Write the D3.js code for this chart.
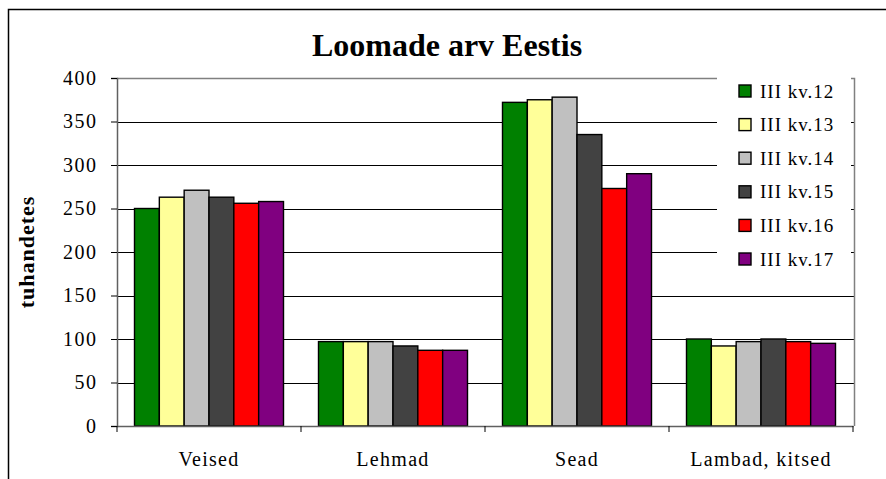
<!DOCTYPE html>
<html>
<head>
<meta charset="utf-8">
<script src="https://cdn.jsdelivr.net/npm/d3@7"></script>
<style>
  body { margin: 0; background: #fff; }
  svg { display: block; font-family: "Liberation Serif", "Times New Roman", serif; }
</style>
</head>
<body>
<svg width="886" height="479"></svg>
<script>
const categories = ["Veised", "Lehmad", "Sead", "Lambad, kitsed"];
const seriesNames = ["III kv.12", "III kv.13", "III kv.14", "III kv.15", "III kv.16", "III kv.17"];
const kv12 = [250, 97, 372, 100];
const kv13 = [263, 97, 375, 92];
const kv14 = [271, 97, 378, 97];
const kv15 = [263, 92, 335, 100];
const kv16 = [256, 87, 273, 97];
const kv17 = [258, 87, 290, 95];
const yTicks = [0, 50, 100, 150, 200, 250, 300, 350, 400];
const colors = ["#008000", "#ffff99", "#c0c0c0", "#424242", "#ff0000", "#800080"];

const allSeries = [kv12, kv13, kv14, kv15, kv16, kv17];

const svg = d3.select("svg");

// outer chart frame (cut off at right and bottom)
svg.append("rect")
  .attr("x", 8.5).attr("y", 9.5)
  .attr("width", 1000).attr("height", 1000)
  .attr("fill", "none")
  .attr("stroke", "#000")
  .attr("stroke-width", 1.5);

const plotL = 117, plotR = 853, plotT = 78, plotB = 426;

const x0 = d3.scaleBand().domain(categories).range([plotL, plotR]);
const x1 = d3.scaleBand().domain(seriesNames)
  .range([17.5, x0.bandwidth() - 17.5]);
const y = d3.scaleLinear().domain([0, 400]).range([plotB, plotT]);

// gridlines
svg.append("g")
  .selectAll("line")
  .data(yTicks.filter(d => d > 0 && d < 400))
  .join("line")
  .attr("x1", plotL).attr("x2", plotR + 1)
  .attr("y1", d => Math.round(y(d)) + 0.5)
  .attr("y2", d => Math.round(y(d)) + 0.5)
  .attr("stroke", "#000")
  .attr("stroke-width", 1);

// plot area border top / right
svg.append("path")
  .attr("d", `M${plotL},${plotT + 0.5}H${plotR + 1.5}V${plotB}`)
  .attr("fill", "none")
  .attr("stroke", "#808080")
  .attr("stroke-width", 1.5);

// bars
const groups = svg.append("g")
  .selectAll("g")
  .data(categories)
  .join("g")
  .attr("transform", d => `translate(${x0(d)},0)`);

groups.selectAll("rect")
  .data((c, i) => allSeries.map((s, j) => ({ name: seriesNames[j], value: s[i], color: colors[j] })))
  .join("rect")
  .attr("x", d => x1(d.name))
  .attr("width", x1.bandwidth())
  .attr("y", d => y(d.value))
  .attr("height", d => plotB - y(d.value))
  .attr("fill", d => d.color)
  .attr("stroke", "#000")
  .attr("stroke-width", 1.4);

// y axis
const yAxis = svg.append("g")
  .attr("transform", `translate(${plotL},0)`)
  .call(d3.axisLeft(y).tickValues(yTicks).tickSize(6).tickPadding(15));
yAxis.select(".domain").attr("stroke", "#606060").attr("stroke-width", 1.5);
yAxis.selectAll(".tick line").attr("stroke", "#000");
yAxis.selectAll(".tick text")
  .attr("font-size", 20)
  .attr("letter-spacing", 1.5)
  .attr("fill", "#000")
  .attr("dx", 1.5)
  .attr("font-family", "Liberation Serif, serif");

// x axis
const xAxis = svg.append("g")
  .attr("transform", `translate(0,${plotB})`)
  .call(d3.axisBottom(x0).tickSize(0).tickPadding(26));
xAxis.select(".domain").attr("stroke", "#606060").attr("stroke-width", 1.5);
xAxis.selectAll(".tick text")
  .attr("font-size", 20)
  .attr("letter-spacing", 1.3)
  .attr("fill", "#000")
  .attr("font-family", "Liberation Serif, serif");

// category separator ticks
const sepX = categories.map(c => x0(c)).concat([plotR]);
xAxis.append("g")
  .selectAll("line")
  .data(sepX)
  .join("line")
  .attr("x1", d => d).attr("x2", d => d)
  .attr("y1", 0).attr("y2", 6)
  .attr("stroke", "#000");

// title
svg.append("text")
  .attr("x", 447).attr("y", 56)
  .attr("text-anchor", "middle")
  .attr("font-size", 32)
  .attr("font-weight", "bold")
  .text("Loomade arv Eestis");

// y label
svg.append("text")
  .attr("transform", "translate(34,252) rotate(-90)")
  .attr("text-anchor", "middle")
  .attr("font-size", 22)
  .attr("font-weight", "bold")
  .attr("letter-spacing", 1)
  .text("tuhandetes");

// legend
const legend = svg.append("g");
legend.append("rect")
  .attr("x", 717).attr("y", 70)
  .attr("width", 134).attr("height", 205)
  .attr("fill", "#fff");

const legendY = d3.scalePoint().domain(seriesNames).range([91, 259]);
const items = legend.selectAll("g.item")
  .data(seriesNames)
  .join("g")
  .attr("class", "item")
  .attr("transform", d => `translate(739,${legendY(d)})`);

items.append("rect")
  .attr("x", 0).attr("y", -6)
  .attr("width", 12).attr("height", 12)
  .attr("fill", (d, i) => colors[i])
  .attr("stroke", "#000")
  .attr("stroke-width", 1.4);

items.append("text")
  .attr("x", 21).attr("y", 6.5)
  .attr("font-size", 19)
  .attr("letter-spacing", 1)
  .text(d => d);
</script>
</body>
</html>
